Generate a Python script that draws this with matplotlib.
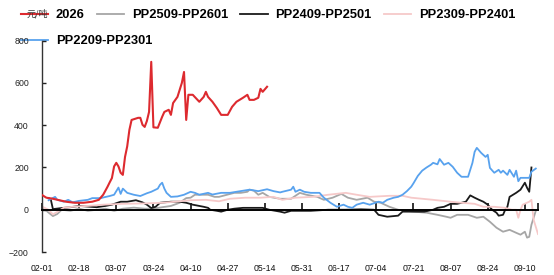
import matplotlib
matplotlib.use("Agg")
import matplotlib.pyplot as plt
import pandas as pd

YEAR = "2025-"

# x axis labels (every 17 days)
tick_labels = ["02-01", "02-18", "03-07", "03-24", "04-10", "04-27", "05-14",
               "05-31", "06-17", "07-04", "07-21", "08-07", "08-24", "09-10"]
x_start, x_end = "02-01", "09-16"
y_ticks = [-200, 0, 200, 400, 600, 800]

# 2026 (red)
red_dates = ["02-01", "02-03", "02-06", "02-09", "02-12", "02-16", "02-20", "02-24", "02-27", "03-01",
             "03-03", "03-04", "03-05", "03-06", "03-07", "03-08", "03-09", "03-10", "03-11", "03-12",
             "03-13", "03-14", "03-17", "03-18", "03-19", "03-20", "03-21", "03-22", "03-23", "03-24",
             "03-26", "03-28", "03-29", "03-31", "04-01", "04-02", "04-04", "04-06", "04-07", "04-08",
             "04-09", "04-11", "04-14", "04-16", "04-17", "04-18", "04-20", "04-22", "04-24", "04-27",
             "04-29", "05-01", "05-04", "05-06", "05-07", "05-09", "05-11", "05-12", "05-13", "05-14",
             "05-15"]
red_vals = [70, 57, 52, 45, 38, 33, 33, 38, 47, 71,
            109, 130, 150, 205, 222, 205, 175, 165, 250, 300,
            378, 425, 435, 435, 402, 392, 420, 463, 700, 390,
            388, 440, 463, 473, 449, 505, 534, 600, 652, 425,
            544, 544, 511, 534, 558, 534, 511, 482, 449, 449,
            487, 511, 530, 544, 520, 520, 530, 572, 558, 570,
            582]

# PP2509-PP2601 (gray)
gray_dates = ["02-01", "02-03", "02-06", "02-08", "02-10", "02-14", "02-18", "02-22", "02-26", "03-02",
              "03-06", "03-10", "03-15", "03-20", "03-24", "03-28", "04-01", "04-05", "04-08", "04-10",
              "04-12", "04-18", "04-21", "04-23", "04-30", "05-03", "05-06", "05-07", "05-09", "05-11",
              "05-13", "05-16", "05-21", "05-26", "05-30", "06-02", "06-07", "06-10", "06-14", "06-18",
              "06-21", "06-25", "06-30", "07-03", "07-06", "07-10", "07-14", "07-21", "07-27", "08-01",
              "08-05", "08-07", "08-10", "08-15", "08-19", "08-22", "08-25", "08-28", "08-31", "09-03",
              "09-06", "09-08", "09-10", "09-11", "09-12", "09-13", "09-15"]
gray_vals = [5, -5, -30, -20, 0, -5, 5, -5, 0, 5,
             -5, 5, 10, 5, 5, 12, 18, 33, 55, 57,
             71, 71, 61, 61, 80, 80, 85, 95, 90, 71,
             80, 61, 52, 52, 80, 71, 61, 47, 57, 75,
             57, 47, 57, 38, 33, 14, 0, -9, -14, -24,
             -33, -38, -24, -24, -38, -33, -57, -85, -104, -95,
             -109, -118, -104, -132, -128, -71, -5]

# PP2409-PP2501 (black)
black_dates = ["02-04", "02-05", "02-06", "02-10", "02-14", "02-18", "02-22", "02-26", "03-02", "03-05",
               "03-09", "03-12", "03-16", "03-19", "03-21", "03-23", "03-25", "03-27", "04-01", "04-05",
               "04-08", "04-11", "04-16", "04-18", "04-19", "04-22", "04-24", "04-27", "04-30", "05-04",
               "05-13", "05-16", "05-21", "05-23", "05-26", "06-04", "06-12", "06-20", "06-27", "07-03",
               "07-05", "07-09", "07-14", "07-16", "07-21", "07-26", "07-30", "08-01", "08-04", "08-07",
               "08-10", "08-14", "08-16", "08-18", "08-20", "08-22", "08-24", "08-26", "08-28", "08-29",
               "08-31", "09-01", "09-02", "09-03", "09-06", "09-08", "09-10", "09-11", "09-12", "09-13"]
black_vals = [55, 50, 3, 8, 12, 18, 15, 12, 18, 24,
              38, 38, 45, 35, 24, 8, 14, 33, 38, 38,
              33, 24, 14, 9, 0, -5, -9, 0, 5, 9,
              9, 0, -9, -14, -5, -5, 0, 0, 2, 0,
              -24, -33, -28, -9, -9, -9, 0, 9, 14, 28,
              28, 38, 68, 57, 47, 38, 24, 0, -14, -28,
              -24, 0, 14, 61, 80, 95, 128, 104, 85, 200]

# PP2309-PP2401 (pink)
pink_dates = ["02-01", "02-04", "02-06", "02-08", "02-11", "02-16", "02-22", "03-01", "03-10", "03-20",
              "03-28", "04-03", "04-10", "04-17", "04-23", "04-28", "05-05", "05-12", "05-18", "05-22",
              "05-28", "06-05", "06-12", "06-20", "06-25", "07-01", "07-10", "07-16", "07-20", "07-25",
              "07-30", "08-07", "08-12", "08-18", "08-22", "08-27", "09-01", "09-04", "09-06", "09-07",
              "09-08", "09-09", "09-12", "09-13", "09-14", "09-16"]
pink_vals = [15, 0, -22, -10, 10, 15, 18, 24, 28, 30,
             33, 38, 45, 47, 40, 52, 57, 57, 61, 47,
             57, 61, 71, 80, 71, 61, 66, 66, 57, 52,
             47, 38, 33, 28, 14, 14, 9, 0, 0, -38,
             0, 24, 38, 47, -47, -115]

# PP2209-PP2301 (blue)
blue_dates = ["02-04", "02-07", "02-08", "02-11", "02-13", "02-15", "02-18", "02-22", "02-24", "02-28",
              "03-01", "03-04", "03-06", "03-08", "03-09", "03-10", "03-12", "03-15", "03-18", "03-21",
              "03-23", "03-26", "03-27", "03-28", "03-29", "03-30", "04-01", "04-04", "04-07", "04-10",
              "04-12", "04-14", "04-18", "04-20", "04-24", "04-28", "05-01", "05-04", "05-07", "05-11",
              "05-15", "05-18", "05-21", "05-22", "05-26", "05-27", "05-28", "05-30", "06-01", "06-04",
              "06-08", "06-10", "06-13", "06-16", "06-19", "06-21", "06-23", "06-25", "06-28", "07-01",
              "07-05", "07-07", "07-09", "07-12", "07-14", "07-16", "07-18", "07-20", "07-21", "07-23",
              "07-25", "07-27", "07-29", "07-30", "08-01", "08-02", "08-04", "08-06", "08-08", "08-10",
              "08-12", "08-15", "08-17", "08-18", "08-19", "08-21", "08-23", "08-24", "08-25", "08-27",
              "08-29", "08-30", "08-31", "09-02", "09-03", "09-05", "09-06", "09-07", "09-08", "09-10",
              "09-12", "09-13", "09-15"]
blue_vals = [45, 61, 47, 38, 47, 35, 42, 47, 55, 55,
             58, 65, 71, 105, 75, 100, 80, 71, 65, 78,
             85, 100, 118, 128, 100, 80, 61, 63, 71, 85,
             80, 71, 80, 72, 80, 80, 85, 90, 95, 88,
             97, 88, 82, 85, 95, 109, 85, 95, 85, 80,
             80, 57, 33, 14, 24, 14, 9, 24, 33, 24,
             38, 33, 47, 57, 61, 71, 88, 109, 125, 160,
             185, 200, 213, 222, 215, 240, 213, 222, 203, 175,
             156, 156, 222, 274, 293, 269, 250, 260, 198, 175,
             189, 175, 185, 165, 189, 156, 185, 135, 151, 151,
             151, 180, 195]


def to_dt(days):
    return pd.to_datetime([YEAR + d for d in days])


series = [
    ("2026", red_dates, red_vals, "#dd2a2f", 1.5),
    ("PP2509-PP2601", gray_dates, gray_vals, "#a6a6a6", 1.3),
    ("PP2409-PP2501", black_dates, black_vals, "#1a1a1a", 1.3),
    ("PP2309-PP2401", pink_dates, pink_vals, "#f6c9c9", 1.3),
    ("PP2209-PP2301", blue_dates, blue_vals, "#58a2ee", 1.3),
]

fig = plt.figure(figsize=(5.54, 2.75), dpi=100)
fig.patch.set_facecolor("white")
ax = fig.add_axes([0.0758, 0.0836, 0.8953, 0.7684])
ax.patch.set_visible(False)

handles = []
for label, dates, vals, color, lw in series:
    ln, = ax.plot(to_dt(dates), vals, color=color, lw=lw, label=label)
    handles.append(ln)
# red on top
handles[0].set_zorder(3)

ax.set_xlim(to_dt([x_start])[0], to_dt([x_end])[0])
ax.set_ylim(-200, 800)
ax.set_yticks(y_ticks)
ax.set_xticks(to_dt(tick_labels))
ax.set_xticklabels(tick_labels)
ax.set_xticks(to_dt([x_end]), minor=True)

for s in ["top", "right"]:
    ax.spines[s].set_visible(False)
ax.spines["bottom"].set_position(("data", 0))
ax.spines["bottom"].set_linewidth(1.4)
ax.spines["left"].set_linewidth(1.0)
ax.spines["left"].set_color("#333333")

tick_font = "Liberation Sans"
ax.tick_params(axis="x", which="both", direction="in", length=5, width=1.2,
               pad=39, labelsize=6.3, colors="#111111")
ax.tick_params(axis="y", direction="in", length=3, width=1.0, pad=9.5,
               labelsize=6.3, colors="#222222")
for t in ax.get_xticklabels() + ax.get_yticklabels():
    t.set_fontfamily(tick_font)

leg_font = {"family": "Liberation Sans", "weight": "bold", "size": 9.3}
leg_kw = dict(loc="center left", frameon=False, borderpad=0, borderaxespad=0,
              handlelength=2.1, handletextpad=0.6, columnspacing=0.95, prop=leg_font)
leg1 = fig.legend(handles[:4], [s[0] for s in series[:4]], ncol=4,
                  bbox_to_anchor=(21 / 554, 1 - 15 / 275), **leg_kw)
leg2 = fig.legend(handles[4:], [series[4][0]], ncol=1,
                  bbox_to_anchor=(21 / 554, 1 - 41 / 275), **leg_kw)
leg1.set_zorder(-1)
leg2.set_zorder(-1)

fig.text(37 / 554, 1 - 14 / 275, "元/吨", ha="center", va="center", fontsize=6.5,
         family=["Noto Sans CJK SC", "DejaVu Sans"], color="#333333", zorder=10)

fig.savefig("out.png", dpi=100)
